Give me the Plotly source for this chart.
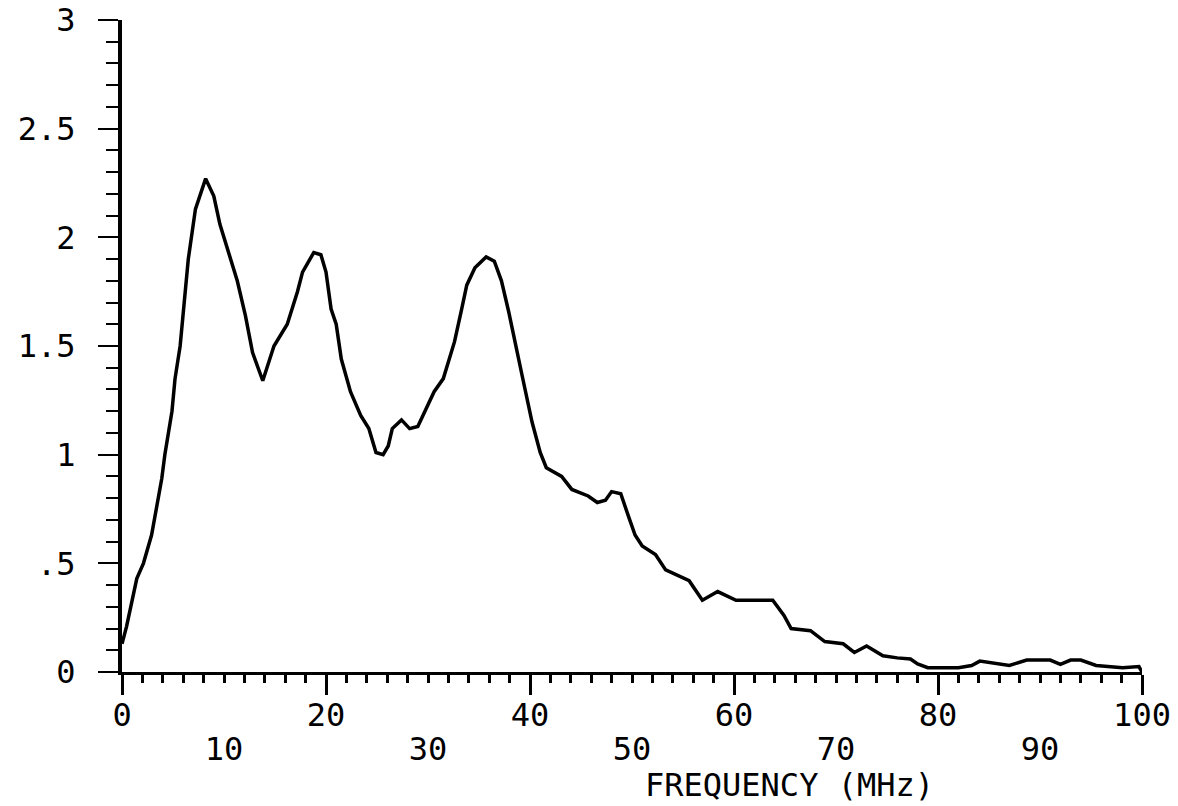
import plotly.graph_objects as go

freq_mhz = [0, 0.45, 1.45, 2.1, 2.9, 3.4, 3.9, 4.2, 4.9, 5.2, 5.7, 6.5, 7.2, 8.2, 9.0, 9.6,
            10.6, 11.3, 12.1, 12.8, 13.8, 14.9, 16.2, 17.2, 17.7, 18.8, 19.5, 20.0, 20.5,
            21.0, 21.5, 22.4, 23.4, 24.2, 24.9, 25.6, 26.1, 26.5, 27.4, 28.2, 29.0, 29.8,
            30.6, 31.5, 32.1, 32.6, 33.3, 33.8, 34.6, 35.7, 36.5, 37.2, 37.9, 38.5, 39.2,
            40.2, 41.0, 41.6, 43.1, 44.1, 45.7, 46.6, 47.4, 48.0, 48.9, 49.7, 50.3, 51.0,
            52.3, 53.3, 54.6, 55.6, 56.9, 58.4, 60.2, 63.8, 64.9, 65.6, 67.5, 68.9, 70.7,
            71.8, 73.0, 74.6, 76.0, 77.3, 78.0, 79.0, 82.0, 83.3, 84.1, 85.5, 87.0, 88.7,
            91.0, 92.0, 93.0, 94.0, 95.5, 98.1, 99.0, 99.7, 100.0]
amplitude = [0.13, 0.21, 0.43, 0.50, 0.63, 0.77, 0.89, 1.00, 1.20, 1.35, 1.50, 1.90, 2.13,
             2.27, 2.19, 2.06, 1.90, 1.80, 1.64, 1.47, 1.34, 1.50, 1.60, 1.75, 1.84, 1.93,
             1.92, 1.84, 1.67, 1.60, 1.44, 1.29, 1.18, 1.12, 1.01, 1.00, 1.04, 1.12, 1.16,
             1.12, 1.13, 1.21, 1.29, 1.35, 1.44, 1.52, 1.67, 1.78, 1.86, 1.91, 1.89, 1.80,
             1.66, 1.52, 1.37, 1.15, 1.01, 0.94, 0.90, 0.84, 0.81, 0.78, 0.79, 0.83, 0.82,
             0.71, 0.63, 0.58, 0.54, 0.47, 0.44, 0.42, 0.33, 0.37, 0.33, 0.33, 0.26, 0.20,
             0.19, 0.14, 0.13, 0.09, 0.12, 0.075, 0.065, 0.06, 0.037, 0.02, 0.02, 0.03,
             0.05, 0.04, 0.03, 0.055, 0.055, 0.035, 0.055, 0.055, 0.03, 0.02, 0.025,
             0.025, 0.0]

x_even_ticks = [0, 20, 40, 60, 80, 100]
x_even_labels = ["0", "20", "40", "60", "80", "100"]
x_odd_ticks = [10, 30, 50, 70, 90]
x_odd_labels = ["10", "30", "50", "70", "90"]
y_ticks = [0, 0.5, 1, 1.5, 2, 2.5, 3]
y_labels = ["0", ".5", "1", "1.5", "2", "2.5", "3"]
x_title = "FREQUENCY (MHz)"

FONT = "DejaVu Sans Mono"
FS = 32

fig = go.Figure()
fig.add_trace(go.Scatter(x=freq_mhz, y=amplitude, mode="lines",
                         line=dict(color="black", width=3.5), cliponaxis=False,
                         showlegend=False, hoverinfo="skip"))
fig.add_trace(go.Scatter(x=freq_mhz, y=amplitude, mode="lines", xaxis="x2",
                         line=dict(color="rgba(0,0,0,0)", width=0),
                         showlegend=False, hoverinfo="skip"))

fig.update_layout(
    width=1178, height=806,
    margin=dict(l=122, r=36, t=20, b=134),
    paper_bgcolor="white", plot_bgcolor="white",
    font=dict(family=FONT, size=FS, color="black"),
    xaxis=dict(range=[0, 100], tickvals=x_even_ticks, ticktext=x_even_labels,
               ticks="outside", ticklen=20, tickwidth=3, tickcolor="black",
               minor=dict(dtick=2, ticks="outside", ticklen=8, tickwidth=3, tickcolor="black"),
               showline=True, linewidth=3, linecolor="black", showgrid=False,
               zeroline=False, ticklabelstandoff=-7, automargin=False),
    xaxis2=dict(range=[0, 100], overlaying="x", side="bottom", anchor="y",
                tickvals=x_odd_ticks, ticktext=x_odd_labels, ticks="",
                showline=False, showgrid=False, zeroline=False,
                ticklabelstandoff=55, automargin=False),
    yaxis=dict(range=[0, 3], tickvals=y_ticks, ticktext=y_labels,
               ticks="outside", ticklen=20, tickwidth=2, tickcolor="black",
               minor=dict(dtick=0.1, ticks="outside", ticklen=12, tickwidth=2, tickcolor="black"),
               showline=True, linewidth=4, linecolor="black", showgrid=False,
               zeroline=False, ticklabelstandoff=16, automargin=False),
    annotations=[dict(text=x_title, xref="x", yref="paper", x=65.4, y=-0.173,
                      xanchor="center", yanchor="middle", showarrow=False,
                      font=dict(family=FONT, size=FS, color="black"))],
)

fig.write_html("out.html")
